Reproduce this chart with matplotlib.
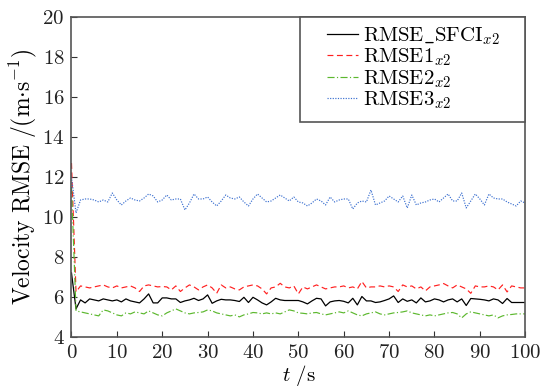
import numpy as np
import matplotlib
matplotlib.use('Agg')
import matplotlib.pyplot as plt
from matplotlib.patches import Rectangle

plt.rcParams['font.family'] = 'serif'
plt.rcParams['font.serif'] = ['cmr10']
plt.rcParams['mathtext.fontset'] = 'cm'
plt.rcParams['axes.formatter.use_mathtext'] = True

t = np.arange(0, 101)

rmse_sfci = [7.2, 5.4, 5.85, 5.7, 5.9, 5.85, 5.8, 5.9, 5.85, 5.8,
             5.85, 5.75, 5.9, 5.8, 5.75, 5.7, 5.9, 6.15, 5.7, 5.7,
             5.95, 5.95, 5.9, 5.9, 5.72, 5.8, 5.85, 5.93, 5.82, 5.9,
             6.1, 5.68, 5.8, 5.88, 5.85, 5.85, 5.82, 5.77, 5.98, 5.72,
             5.98, 5.85, 5.7, 5.6, 5.75, 5.93, 5.85, 5.82, 5.82, 5.82,
             5.82, 5.75, 5.65, 5.8, 5.93, 5.9, 5.55, 5.75, 5.8, 5.82,
             5.78, 5.7, 5.93, 5.6, 6.02, 5.8, 5.8, 5.72, 5.75, 5.82,
             5.9, 6.05, 5.72, 5.9, 5.78, 5.85, 5.7, 5.95, 5.75, 5.8,
             5.9, 5.85, 5.75, 5.85, 5.9, 5.75, 5.9, 5.57, 5.92, 5.9,
             5.88, 5.85, 5.8, 5.9, 5.85, 5.67, 5.92, 5.72, 5.72, 5.72,
             5.72]

rmse1 = [12.7, 6.25, 6.55, 6.5, 6.45, 6.5, 6.55, 6.6, 6.5, 6.45,
         6.55, 6.45, 6.5, 6.55, 6.45, 6.27, 6.55, 6.6, 6.55, 6.5,
         6.52, 6.5, 6.35, 6.55, 6.27, 6.45, 6.6, 6.5, 6.35, 6.5,
         6.6, 6.45, 6.18, 6.6, 6.45, 6.5, 6.4, 6.35, 6.5, 6.55,
         6.6, 6.55, 6.4, 6.15, 6.45, 6.5, 6.68, 6.5, 6.45, 6.55,
         6.15, 6.5, 6.4, 6.5, 6.6, 6.5, 6.4, 6.45, 6.5, 6.5,
         6.55, 6.45, 6.5, 6.4, 6.77, 6.45, 6.5, 6.5, 6.55, 6.5,
         6.55, 6.5, 6.27, 6.6, 6.5, 6.55, 6.4, 6.5, 6.3, 6.5,
         6.55, 6.6, 6.67, 6.55, 6.45, 6.6, 6.5, 6.4, 6.18, 6.55,
         6.5, 6.5, 6.55, 6.5, 6.35, 6.6, 6.25, 6.55, 6.5, 6.45,
         6.45]

rmse2 = [11.5, 5.3, 5.25, 5.2, 5.15, 5.1, 5.05, 5.35, 5.3, 5.2,
         5.1, 5.05, 5.2, 5.15, 5.25, 5.2, 5.15, 5.3, 5.2, 5.1,
         5.05, 5.2, 5.3, 5.4, 5.3, 5.2, 5.15, 5.2, 5.22, 5.25,
         5.35, 5.3, 5.2, 5.15, 5.1, 5.05, 5.1, 5.0, 5.1, 5.15,
         5.22, 5.2, 5.15, 5.2, 5.15, 5.2, 5.15, 5.25, 5.35, 5.3,
         5.2, 5.18, 5.15, 5.2, 5.22, 5.15, 5.1, 5.15, 5.2, 5.25,
         5.2, 5.3, 5.2, 5.1, 5.05, 5.15, 5.2, 5.25, 5.15, 5.1,
         5.15, 5.2, 5.22, 5.25, 5.3, 5.2, 5.15, 5.1, 5.05, 5.1,
         5.05, 5.1, 5.15, 5.2, 5.22, 5.15, 4.95, 5.15, 5.25, 5.2,
         5.15, 5.1, 5.05, 5.1, 4.95, 5.05, 5.1, 5.12, 5.15, 5.15,
         5.15]

rmse3 = [12.0, 10.2, 10.85, 10.9, 10.9, 10.85, 10.75, 10.85, 10.75, 11.2,
         10.85, 10.6, 10.8, 10.95, 10.85, 10.8, 10.95, 11.15, 11.05, 10.75,
         10.85, 11.1, 10.85, 10.9, 10.9, 10.35, 10.7, 11.15, 10.9, 10.9,
         11.0, 10.75, 10.55, 10.8, 11.1, 10.95, 10.9, 11.0, 10.75, 10.55,
         10.9, 11.15, 10.95, 10.75, 10.8, 10.95, 11.1, 10.95, 10.8, 11.0,
         10.75, 10.7, 10.55, 10.7, 10.9, 10.8, 10.6, 11.0, 10.75, 10.85,
         10.9, 10.9, 10.4, 10.7, 10.8, 10.75, 11.35, 10.6, 10.7, 10.8,
         11.05, 10.9, 10.75, 11.05, 10.45, 11.1, 10.6, 10.7, 10.75, 10.85,
         10.9, 10.75, 10.95, 11.15, 10.8, 10.8, 11.2, 10.45, 10.8, 11.15,
         10.9, 10.6, 11.15, 10.95, 10.9, 10.9, 10.75, 10.65, 10.55, 10.8,
         10.7]

labels = [r'$\mathrm{RMSE\_SFCI}_{x2}$', r'$\mathrm{RMSE1}_{x2}$',
          r'$\mathrm{RMSE2}_{x2}$', r'$\mathrm{RMSE3}_{x2}$']

fig = plt.figure(figsize=(5.52, 3.89), dpi=100)
ax = fig.add_axes([0.1295, 0.134, 0.822, 0.822])

ax.plot(t, rmse_sfci, color='k', lw=0.9, ls='-', label=labels[0])
ax.plot(t, rmse1, color='#ff2020', lw=0.85, ls=(0, (5, 3)), label=labels[1])
ax.plot(t, rmse2, color='#5cb82e', lw=0.85, ls=(0, (6, 2, 1, 2)), label=labels[2])
ax.plot(t, rmse3, color='#3a6fd0', lw=0.85, ls=(0, (1, 1.2)), label=labels[3])

ax.set_xlim(0, 100)
ax.set_ylim(4, 20)
ax.set_xticks(np.arange(0, 101, 10))
ax.set_yticks(np.arange(4, 21, 2))
ax.tick_params(direction='in', length=4, width=0.8, labelsize=15, pad=5,
               top=False, right=False, colors='#333333', labelcolor='#222222')
for s in ax.spines.values():
    s.set_color('#555555')
    s.set_linewidth(1.2)

ax.set_xlabel(r'$t\ /\mathrm{s}$', fontsize=15, labelpad=1)
ax.set_ylabel(r'$\mathrm{Velocity\ RMSE\ /(m{\cdot}s^{-1})}$', fontsize=17, labelpad=2)

# legend box drawn separately (wide left padding as in the original)
ax.add_patch(Rectangle((0.504, 0.672), 0.496, 0.328, transform=ax.transAxes,
                       facecolor='white', edgecolor='#555555', lw=1.2,
                       zorder=4, clip_on=False))
leg = ax.legend(loc='upper left', bbox_to_anchor=(0.564, 0.975), fontsize=15,
                frameon=False, handlelength=1.45, handletextpad=0.25,
                labelspacing=0.0, borderaxespad=0, borderpad=0)
leg.set_zorder(5)

plt.savefig('out.png', dpi=100)
